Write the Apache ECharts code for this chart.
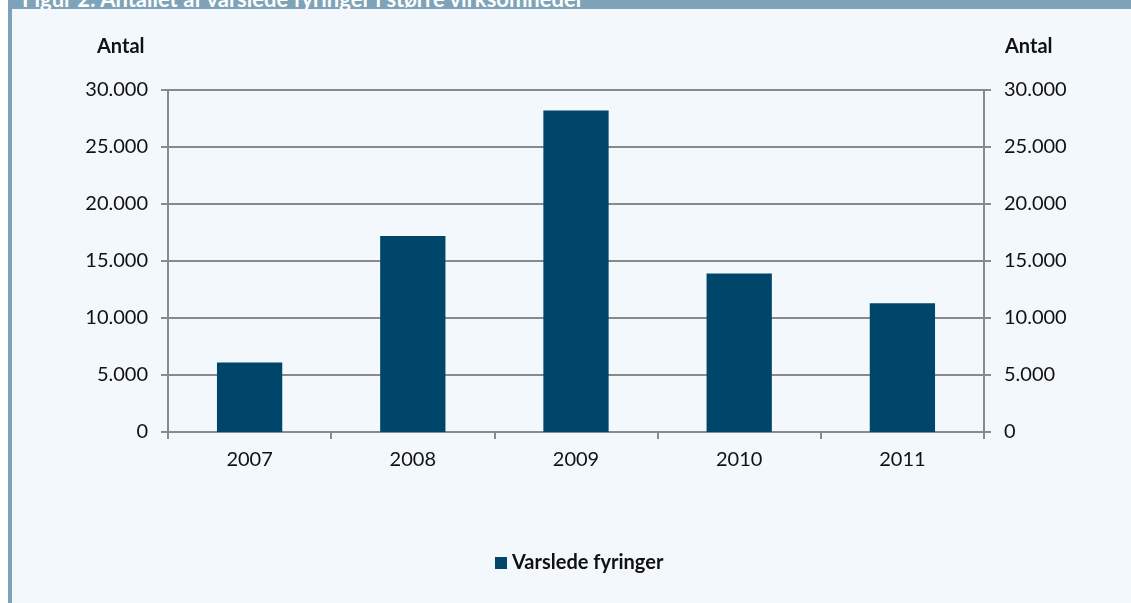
<!DOCTYPE html>
<html>
<head>
<meta charset="utf-8">
<script src="https://cdn.jsdelivr.net/npm/echarts@6/dist/echarts.min.js"></script>
<style>
  html, body { margin: 0; padding: 0; background: #ffffff; }
  .frame {
    position: absolute; left: 8px; top: 0; width: 1123px; height: 603px;
    background: #f3f8fd; border-left: 4px solid #7ea3b9; box-sizing: border-box;
  }
  .band {
    position: absolute; left: 8px; top: 0; width: 1123px; height: 9px;
    background: #7ea3b9; overflow: hidden;
  }
  .band span {
    position: absolute; left: 14px; top: -15px; color: #ffffff;
    font: bold 22px Lato, sans-serif; white-space: nowrap;
  }
  #chart { position: absolute; left: 0; top: 0; width: 1131px; height: 603px; }
</style>
</head>
<body>
<div class="frame"></div>
<div class="band"><span>Figur 2: Antallet af varslede fyringer i større virksomheder</span></div>
<div id="chart"></div>
<script>
const years = ["2007", "2008", "2009", "2010", "2011"];
const varsledeFyringer = [6100, 17200, 28200, 13900, 11300];
const yTicks = [0, 5000, 10000, 15000, 20000, 25000, 30000];

const chartInstance = echarts.init(document.getElementById("chart"));

const fmt = (v) => String(v).replace(/\B(?=(\d{3})+(?!\d))/g, ".");

const axisColor = "#8a8a8a";
const labelStyle = { color: "#111", fontSize: 20, fontFamily: "Lato, sans-serif" };

const yCommon = {
  type: "value",
  min: yTicks[0],
  max: yTicks[yTicks.length - 1],
  interval: 5000,
  axisLine: { show: true, lineStyle: { color: axisColor, width: 2 } },
  axisTick: { show: true, length: 7, lineStyle: { color: axisColor, width: 2 } },
  axisLabel: Object.assign({ formatter: fmt, margin: 20 }, labelStyle),
};

const option = {
  backgroundColor: "transparent",
  animation: false,
  grid: { left: 168, right: 147, top: 90, bottom: 171 },
  legend: {
    bottom: 25,
    left: 490,
    icon: "rect",
    itemWidth: 12,
    itemHeight: 12,
    itemGap: 5,
    textStyle: { color: "#111", fontSize: 20, fontWeight: "bold", fontFamily: "Lato, sans-serif" },
    data: ["Varslede fyringer"],
  },
  graphic: [
    { type: "text", left: 97, top: 37, style: { text: "Antal", fill: "#111", font: "bold 20px Lato, sans-serif" } },
    { type: "text", left: 1005, top: 37, style: { text: "Antal", fill: "#111", font: "bold 20px Lato, sans-serif" } },
  ],
  xAxis: {
    type: "category",
    data: years,
    axisLine: { show: true, lineStyle: { color: axisColor, width: 2 } },
    axisTick: { show: true, length: 7, alignWithLabel: false, lineStyle: { color: axisColor, width: 2 } },
    axisLabel: Object.assign({ margin: 18 }, labelStyle),
    splitLine: { show: false },
  },
  yAxis: [
    Object.assign({}, yCommon, {
      position: "left",
      splitLine: { show: true, lineStyle: { color: axisColor, width: 2 } },
    }),
    Object.assign({}, yCommon, {
      position: "right",
      splitLine: { show: false },
    }),
  ],
  series: [
    {
      name: "Varslede fyringer",
      type: "bar",
      data: varsledeFyringer,
      barWidth: "40%",
      itemStyle: { color: "#00466b" },
    },
  ],
};

chartInstance.setOption(option);
</script>
</body>
</html>
